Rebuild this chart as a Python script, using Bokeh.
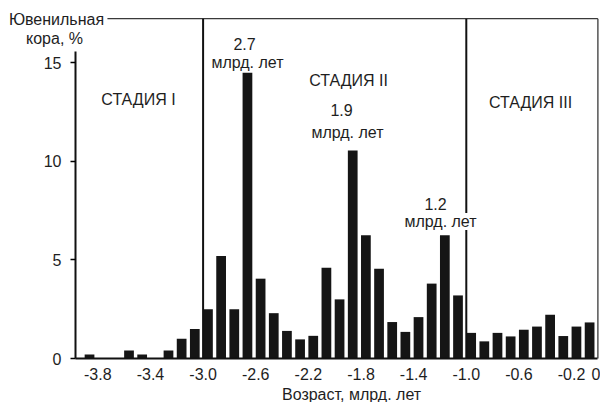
from bokeh.plotting import figure
from bokeh.models import Range1d, FixedTicker, Label, ColumnDataSource
from bokeh.embed import file_html
from bokeh.resources import INLINE

# Bin left edges (billion years, negative = ago) and juvenile crust share, %
age_start = [-3.9, -3.6, -3.5, -3.3, -3.2, -3.1,
             -3.0, -2.9, -2.8, -2.7, -2.6, -2.5, -2.4, -2.3, -2.2, -2.1,
             -2.0, -1.9, -1.8, -1.7, -1.6, -1.5, -1.4, -1.3, -1.2, -1.1,
             -1.0, -0.9, -0.8, -0.7, -0.6, -0.5, -0.4, -0.3, -0.2, -0.1]
juvenile = [0.2, 0.4, 0.2, 0.4, 1.0, 1.5,
            2.5, 5.2, 2.5, 14.5, 4.05, 2.3, 1.4, 0.97, 1.15, 4.6,
            3.0, 10.55, 6.25, 4.55, 1.85, 1.35, 2.1, 3.8, 6.25, 3.2,
            1.3, 0.87, 1.3, 1.12, 1.46, 1.62, 2.22, 1.14, 1.62, 1.83]

x_ticks = [-3.8, -3.4, -3.0, -2.6, -2.2, -1.8, -1.4, -1.0, -0.6, -0.2, 0.0]
x_tick_labels = ["-3.8", "-3.4", "-3.0", "-2.6", "-2.2", "-1.8", "-1.4",
                 "-1.0", "-0.6", "-0.2", "0"]
y_ticks = [0, 5, 10, 15]

stage_bounds = [-3.0, -1.0]
stage_names = ["СТАДИЯ I", "СТАДИЯ II", "СТАДИЯ III"]
peak_ages = ["2.7", "1.9", "1.2"]

FONT = "Liberation Sans"
TXT = "#1e1e1e"
BAR_W = 0.074
X0 = -3.97          # left end of the age axis
TOP = 17.24         # top border of the diagram

src = ColumnDataSource(dict(x=[a + BAR_W / 2 for a in age_start], top=juvenile))

p = figure(output_backend="svg", toolbar_location=None,
           width=600, height=402,
           x_range=Range1d(-4.5395, 0.0198), y_range=Range1d(-2.232, 18.163),
           min_border_left=0, min_border_right=0,
           min_border_top=0, min_border_bottom=0)
p.outline_line_color = None
p.xgrid.visible = False
p.ygrid.visible = False
p.background_fill_color = "white"
p.border_fill_color = "white"

p.vbar(x="x", top="top", width=BAR_W, bottom=0, source=src,
       fill_color="#151515", line_color=None)

# frame: top border and right border
p.segment(x0=[-3.727, 0.0], y0=[TOP, 0], x1=[0.0, 0.0], y1=[TOP, TOP],
          line_color="#3a3a3a", line_width=1.3)
# stage boundaries
p.segment(x0=stage_bounds, y0=[0, 0], x1=stage_bounds, y1=[TOP, TOP],
          line_color="#111111", line_width=2)

# axes (pinned inside the frame)
xa = p.xaxis[0]
xa.fixed_location = 0
xa.bounds = (X0, 0)
xa.ticker = FixedTicker(ticks=x_ticks)
xa.major_label_overrides = {t: l for t, l in zip(x_ticks, x_tick_labels)}
xa.major_tick_out = 0
xa.major_tick_in = 0
xa.minor_tick_out = 0
xa.minor_tick_in = 0
xa.axis_line_width = 2
xa.axis_line_color = "#111111"
xa.major_label_standoff = 9
xa.major_label_text_font = FONT
xa.major_label_text_font_size = "16px"
xa.major_label_text_color = TXT

ya = p.yaxis[0]
ya.fixed_location = X0
ya.bounds = (0, 15.6)
ya.ticker = FixedTicker(ticks=y_ticks)
ya.major_tick_out = 5
ya.major_tick_in = 0
ya.major_tick_line_width = 1.5
ya.minor_tick_out = 0
ya.minor_tick_in = 0
ya.axis_line_width = 2
ya.axis_line_color = "#111111"
ya.major_label_standoff = 9
ya.major_label_text_font = FONT
ya.major_label_text_font_size = "16px"
ya.major_label_text_color = TXT


def lab(text, x, y, size="16px", bg=None):
    kw = dict(x=x, y=y, text=text, text_font=FONT, text_font_size=size,
              text_color=TXT, text_align="center", text_baseline="middle")
    if bg:
        kw["background_fill_color"] = bg
    p.add_layout(Label(**kw))


lab("Ювенильная", -4.114, 17.2)
lab("кора, %", -4.129, 16.24)
lab(stage_names[0], -3.491, 13.14)
lab(stage_names[1], -1.895, 14.1)
lab(stage_names[2], -0.512, 12.99)
lab(peak_ages[0], -2.685, 15.98)
lab("млрд. лет", -2.663, 15.02)
lab(peak_ages[1], -1.948, 12.63)
lab("млрд. лет", -1.903, 11.47)
lab(peak_ages[2], -1.234, 7.86)
lab("млрд. лет", -1.196, 6.95, bg="white")
lab("Возраст, млрд. лет", -1.872, -1.83)

open("out.html", "w").write(file_html(p, INLINE))
